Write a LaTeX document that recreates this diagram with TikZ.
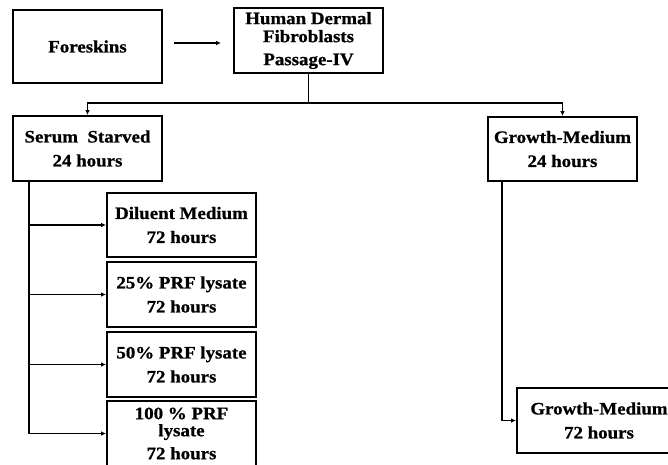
\documentclass[tikz,border=0pt]{standalone}
\usepackage{fontspec}
\setmainfont{Liberation Serif}[FakeStretch=1.08, BoldFeatures={FakeBold=0.8}]
\usetikzlibrary{arrows.meta}
\begin{document}
\begin{tikzpicture}[x=1pt,y=-1pt,
  box/.style={draw, line width=1.8pt, minimum width=149pt, inner sep=0pt, align=center,
    font=\fontsize{17.5}{24}\selectfont\bfseries},
  conn/.style={line width=1.5pt},
  arr/.style={conn, -{Latex[length=5pt,width=4.5pt]}}]
\useasboundingbox (0,0) rectangle (668,464);
\node[box, minimum height=73pt] (fore) at (87.5,46.5) {Foreskins};
\node[box, minimum height=65pt] (hdf) at (308.5,40.5) {Human Dermal\\[-6pt]Fibroblasts\\[-1pt]Passage-IV};
\node[box, minimum height=65pt] (serum) at (87.5,148.5) {Serum\ \ Starved\\24 hours};
\node[box, minimum height=64pt] (gm24) at (562.5,149) {Growth-Medium\\24 hours};
\node[box, minimum height=64pt] (d1) at (181.5,225) {Diluent Medium\\72 hours};
\node[box, minimum height=65pt] (d2) at (181.5,294.5) {25\% PRF lysate\\72 hours};
\node[box, minimum height=65pt] (d3) at (181.5,364.5) {50\% PRF lysate\\72 hours};
\node[box, minimum height=65pt] (d4) at (181.5,433.5) {100 \% PRF\\[-7pt]lysate\\[-1pt]72 hours};
\node[box, minimum width=164pt, minimum height=65pt] (gm72) at (599,420.5) {Growth-Medium\\72 hours};
\coordinate (ya) at (0,43);
\draw[arr, shorten <=11pt, shorten >=12pt] (fore.east |- ya) -- (hdf.west |- ya);
\coordinate (split) at (308.5,103);
\draw[conn] (hdf.south) -- (split);
\draw[arr] (split) -| (serum.north);
\draw[arr] (split) -| (gm24.north);
\coordinate (sv) at (29,0);
\draw[conn] (serum.south -| sv) -- (sv |- d4.west);
\foreach \n in {d1,d2,d3,d4} \draw[arr] (sv |- \n.west) -- (\n.west);
\coordinate (gv) at (502,0);
\draw[arr] (gm24.south -| gv) |- (gm72.west);
\end{tikzpicture}
\end{document}
